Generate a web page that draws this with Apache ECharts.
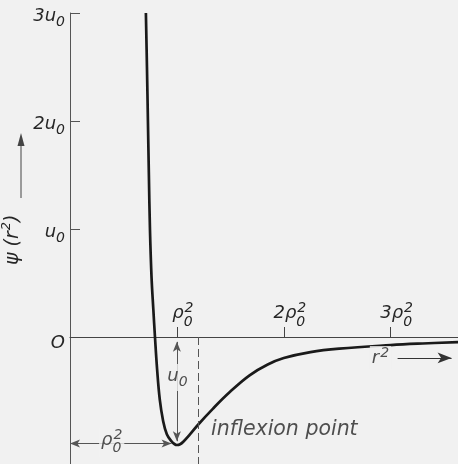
<!DOCTYPE html>
<html>
<head>
<meta charset="utf-8">
<script src="https://cdn.jsdelivr.net/npm/echarts@6/dist/echarts.min.js"></script>
<style>
html,body{margin:0;padding:0;background:#f1f1f1;}
#chart{width:458px;height:464px;}
</style>
</head>
<body>
<div id="chart"></div>
<script>
// r^2 in units of rho0^2, psi in units of u0
const r2Values  = [0.71, 0.72, 0.729, 0.738, 0.748, 0.763, 0.78, 0.795, 0.815, 0.84, 0.87, 0.906, 0.953, 0.98, 1.0, 1.03, 1.06, 1.12, 1.2, 1.336, 1.495, 1.68, 1.85, 2.0, 2.25, 2.52, 3.0, 3.3, 3.63];
const psiValues = [3.0, 2.5, 2.0, 1.5, 1.0, 0.55, 0.25, 0.0, -0.3, -0.58, -0.77, -0.9, -0.97, -0.993, -1.0, -0.993, -0.97, -0.905, -0.81, -0.665, -0.51, -0.355, -0.255, -0.195, -0.14, -0.108, -0.075, -0.06, -0.047];

const yTickValues = [1, 2, 3];
const yLabelValues = [0, 1, 2, 3];
const yTickLabels = ['{z|O}', '{b|u}{s|0}', '{b|2u}{s|0}', '{b|3u}{s|0}'];
const xTickValues = [1, 2, 3];
const xTickLabels = ['{b|ρ}{t|0}{p|2}', '{b|2ρ}{t|0}{p|2}', '{b|3ρ}{t|0}{p|2}'];

// annotation anchor points [r2, psi]
const inflexionR2 = 1.2;
const annotations = [
  {value: [1.005, -0.375], text: '{b|u}{s|0}', pos: 'inside'},
  {value: [0.39, -0.98], text: '{b|ρ}{t|0}{p|2}', pos: 'inside'},
  {value: [1.3, -0.865], text: '{i|inflexion point}', pos: 'right'},
  {value: [2.905, -0.19], text: '{b|r}{q|2}', pos: 'inside'}
];

const FONT = 'DejaVu Sans';
const INK = '#262626';
const BG = '#f1f1f1';
const rich = {
  b: {fontFamily: FONT, fontStyle: 'italic', fontSize: 18, color: INK, verticalAlign: 'top', padding: [3, 0, 0, 0]},
  z: {fontFamily: FONT, fontStyle: 'italic', fontSize: 18, color: INK, verticalAlign: 'top', padding: [4, 0, 0, 0]},
  s: {fontFamily: FONT, fontStyle: 'italic', fontSize: 14, color: INK, verticalAlign: 'top', padding: [11, 0, 0, 0]},
  t: {fontFamily: FONT, fontStyle: 'italic', fontSize: 14, color: INK, verticalAlign: 'top', padding: [13.5, 0, 0, 0]},
  p: {fontFamily: FONT, fontStyle: 'italic', fontSize: 14, color: INK, verticalAlign: 'top', padding: [0, 0, 0, -8]},
  q: {fontFamily: FONT, fontStyle: 'italic', fontSize: 14, color: INK, verticalAlign: 'top', padding: [0, 0, 0, 1]},
  i: {fontFamily: FONT, fontStyle: 'italic', fontSize: 20.5, color: INK}
};

const chart = echarts.init(document.getElementById('chart'), null, {renderer: 'canvas'});
const curve = r2Values.map((x, i) => [x, psiValues[i]]);

const Y_MIN = -1.2, Y_MAX = 3, GRID_TOP = 13, GRID_H = 453.6;
// x axis drawn on the zero line: shift the top axis down by the pixel span from max to 0
const zeroOffset = -(Y_MAX - 0) / (Y_MAX - Y_MIN) * GRID_H;

chart.setOption({
  backgroundColor: BG,
  animation: false,
  grid: {left: 70, top: GRID_TOP, width: 388, height: GRID_H, outerBoundsMode: 'none', containLabel: false},
  xAxis: {
    type: 'value', min: 0, max: 3.63, position: 'top', offset: zeroOffset,
    axisLine: {onZero: false, lineStyle: {color: '#444', width: 1.2}},
    axisTick: {show: true, inside: false, length: 10, customValues: xTickValues, lineStyle: {color: '#444'}},
    axisLabel: {
      margin: 8, customValues: xTickValues, padding: [0, 0, 0, 12],
      formatter: v => xTickLabels[xTickValues.indexOf(v)], rich: rich
    },
    splitLine: {show: false}
  },
  yAxis: {
    type: 'value', min: Y_MIN, max: Y_MAX,
    name: '{n|ψ (r}{q|2}{n|)}', nameLocation: 'middle', nameRotate: 90, nameGap: 38,
    nameTextStyle: {rich: {
      n: {fontFamily: FONT, fontStyle: 'italic', fontSize: 19, color: INK, verticalAlign: 'top', padding: [3, 0, 0, 0]},
      q: {fontFamily: FONT, fontStyle: 'italic', fontSize: 13, color: INK, verticalAlign: 'top', padding: [0, 0, 0, 1]}
    }},
    axisLine: {onZero: false, lineStyle: {color: '#555', width: 1}},
    axisTick: {show: true, inside: true, length: 10, customValues: yTickValues, lineStyle: {color: '#555'}},
    axisLabel: {
      margin: 5, customValues: yLabelValues, padding: [8, 0, 0, 0],
      formatter: v => yTickLabels[yLabelValues.indexOf(v)], rich: rich
    },
    splitLine: {show: false}
  },
  graphic: [
    {type: 'line', shape: {x1: 21, y1: 198, x2: 21, y2: 142}, style: {stroke: '#444', lineWidth: 1}},
    {type: 'polygon', shape: {points: [[21, 133], [17.5, 146], [24.5, 146]]}, style: {fill: '#444'}}
  ],
  series: [
    {
      type: 'line', data: curve, smooth: 0.4, showSymbol: false,
      lineStyle: {color: '#1a1a1a', width: 2.7}, z: 2,
      markLine: {
        silent: true, animation: false, label: {show: false},
        data: [
          [{coord: [inflexionR2, 0], symbol: 'none'}, {coord: [inflexionR2, -1.2], symbol: 'none',
            lineStyle: {type: [8, 4], color: '#555', width: 1}}],
          [{coord: [1.0, -0.045], symbol: 'arrow', symbolSize: [6, 10]}, {coord: [1.0, -0.965], symbol: 'arrow', symbolSize: [6, 10],
            lineStyle: {type: 'solid', color: '#555', width: 1}}],
          [{coord: [0, -0.985], symbol: 'arrow', symbolSize: [6, 10]}, {coord: [0.95, -0.985], symbol: 'arrow', symbolSize: [6, 10],
            lineStyle: {type: 'solid', color: '#555', width: 1}}],
          [{coord: [3.065, -0.194], symbol: 'none'}, {coord: [3.57, -0.194], symbol: 'arrow', symbolSize: [8, 14],
            lineStyle: {type: 'solid', color: '#333', width: 1}}]
        ],
        lineStyle: {color: '#555', width: 1}
      }
    },
    {
      type: 'scatter', symbolSize: 0, z: 5, silent: true,
      data: annotations.map(a => ({
        value: a.value,
        label: {show: true, position: a.pos, distance: 0, formatter: a.text, rich: rich,
          backgroundColor: a.pos === 'inside' ? BG : 'transparent', padding: [0, 2, 2, 2]}
      }))
    }
  ]
});
</script>
</body>
</html>
